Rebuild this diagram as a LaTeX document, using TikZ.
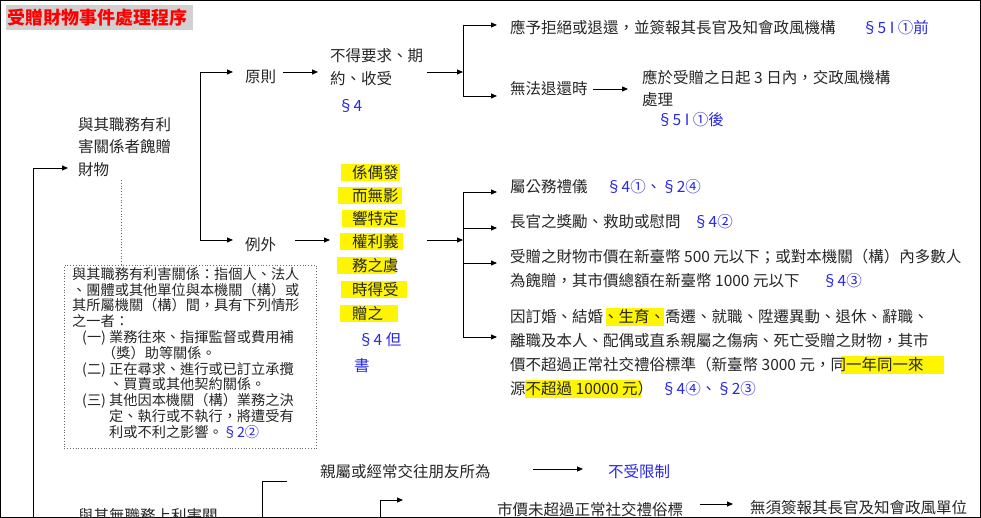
\documentclass[tikz,border=0pt]{standalone}
\usepackage{fontspec}
\setmainfont{Noto Sans CJK TC}
\usetikzlibrary{arrows.meta}
\definecolor{lawblue}{RGB}{40,40,230}
\definecolor{hl}{RGB}{255,245,0}
\tikzset{
  x=1pt,y=-1pt,
  tx/.style={anchor=west,inner sep=0pt,font=\fontsize{15.5}{18}\selectfont,text=black!85},
  law/.style={tx,text=lawblue},
  sm/.style={anchor=north west,inner sep=0pt,font=\fontsize{14.2}{15.8}\selectfont,align=left,text=black!85},
  arr/.style={-{Triangle[length=6pt,width=5pt]},line width=0.9pt},
  ln/.style={line width=0.9pt},
}
\begin{document}
\begin{tikzpicture}
\useasboundingbox (0,0) rectangle (981,518);
\clip (0,0) rectangle (981,518);
\fill[white] (0,0) rectangle (981,518);
\draw[line width=1pt] (0.5,0.5) rectangle (980.5,517.5);
% title
\fill[black!18] (6,5) rectangle (193,30);
\node[anchor=west,inner sep=0pt,text=red,font=\fontsize{18}{20}\selectfont\bfseries] (title) at (7,18) {受贈財物事件處理程序};
% left trunk
\coordinate (t0) at (33,518);
\coordinate (t1) at (33,168);
\coordinate (t2) at (68,168);
\draw[arr] (t0) -- (t1) -- (t2);
\node[tx,anchor=north west,align=left,font=\fontsize{15.5}{22.5}\selectfont] (gift) at (78,117) {與其職務有利\\害關係者餽贈\\財物};
% dotted box
\node[draw=black!60,dotted,line width=0.8pt,minimum width=252pt,minimum height=183pt,anchor=north west,inner sep=0pt] (def) at (64,265) {};
\draw[black!60,dotted,line width=0.8pt] (121,180) -- (def.north -| 121,0);
\node[sm] (deftext) at (72,267) {與其職務有利害關係：指個人、法人\\、團體或其他單位與本機關（構）或\\其所屬機關（構）間，具有下列情形\\之一者：\\
\hspace*{10pt}(一) 業務往來、指揮監督或費用補\\\hspace*{30pt}（獎）助等關係。\\
\hspace*{10pt}(二) 正在尋求、進行或已訂立承攬\\\hspace*{37pt}、買賣或其他契約關係。\\
\hspace*{10pt}(三) 其他因本機關（構）業務之決\\\hspace*{37pt}定、執行或不執行，將遭受有\\\hspace*{37pt}利或不利之影響。\textcolor{lawblue}{§2②}};
% principle / exception branch
\coordinate (b0) at (200,72);
\coordinate (b1) at (200,240);
\draw[arr] (b0) -- (b1) -- (233,240);
\draw[arr] (b0) -- (233,72);
\node[tx] (yuan) at (245,77) {原則};
\node[tx] (li) at (245,245) {例外};
\draw[arr] (283,72) -- (318,72);
\node[tx,anchor=north west,align=left,font=\fontsize{15.5}{23}\selectfont] (nobe) at (330,48) {不得要求、期\\約、收受};
\node[law] (s4) at (338,106) {§4};
\draw[arr] (427,72) -- (463,72);
\draw[ln] (463,25) -- (463,96);
\draw[arr] (463,25) -- (497,25);
\draw[arr] (463,96) -- (497,96);
\node[tx] (refuse) at (510,28) {應予拒絕或退還，並簽報其長官及知會政風機構};
\node[law] (s51a) at (862,28) {§5 I ①前};
\node[tx] (cannot) at (510,89) {無法退還時};
\draw[arr] (593,89) -- (628,89);
\node[tx] (three) at (642,78) {應於受贈之日起 3 日內，交政風機構};
\node[tx] (chuli) at (642,100) {處理};
\node[law] (s51b) at (657,120) {§5 I ①後};
% exception column
\draw[arr] (295,240) -- (330,240);
\foreach \t/\y/\a/\b in {係偶發/173/341/400,而無影/196/338/402,響特定/219/342/405,權利義/242/340/403,務之虞/266/337/396,時得受/290/341/407,贈之/314/340/398}{
  \fill[hl] (\a,\y-9) rectangle (\b,\y+8);
  \node[tx] at (352,\y) {\t};
}
\node[law] (s4b) at (358,340) {§4 但};
\node[law] (shu) at (354,366) {書};
\draw[arr] (427,240) -- (463,240);
\draw[ln] (463,192) -- (463,337);
\foreach \y in {192,228,263,337} \draw[arr] (463,\y) -- (497,\y);
\node[tx] (e1) at (510,187) {屬公務禮儀};
\node[law] at (606,187) {§4①、§2④};
\node[tx] (e2) at (510,222) {長官之獎勵、救助或慰問};
\node[law] at (693,222) {§4②};
\node[tx] (e3) at (510,257) {受贈之財物市價在新臺幣 500 元以下；或對本機關（構）內多數人};
\node[tx] at (510,281) {為餽贈，其市價總額在新臺幣 1000 元以下};
\node[law] at (822,281) {§4③};
\fill[hl] (606,308) rectangle (664,326);
\fill[hl] (841,356) rectangle (944,374);
\fill[hl] (525,380) rectangle (641,398);
\node[tx] (e4) at (510,317) {因訂婚、結婚、生育、喬遷、就職、陞遷異動、退休、辭職、};
\node[tx] at (510,341) {離職及本人、配偶或直系親屬之傷病、死亡受贈之財物，其市};
\node[tx] at (510,365) {價不超過正常社交禮俗標準（新臺幣 3000 元，同一年同一來};
\node[tx] at (510,389) {源不超過 10000 元）};
\node[law] at (661,389) {§4④、§2③};
% bottom part
\draw[ln] (287,481) -- (262,481) -- (262,518);
\node[tx] (rel) at (320,472) {親屬或經常交往朋友所為};
\draw[arr] (533,469) -- (583,469);
\node[law] (free) at (608,472) {不受限制};
\draw[arr] (380,518) -- (380,500) -- (403,500);
\node[tx] (mkt) at (497,510) {市價未超過正常社交禮俗標};
\draw[arr] (700,504) -- (733,504);
\node[tx] (nosign) at (750,508) {無須簽報其長官及知會政風單位};
\node[tx] (nogift) at (78,516) {與其無職務上利害關};
\end{tikzpicture}
\end{document}
